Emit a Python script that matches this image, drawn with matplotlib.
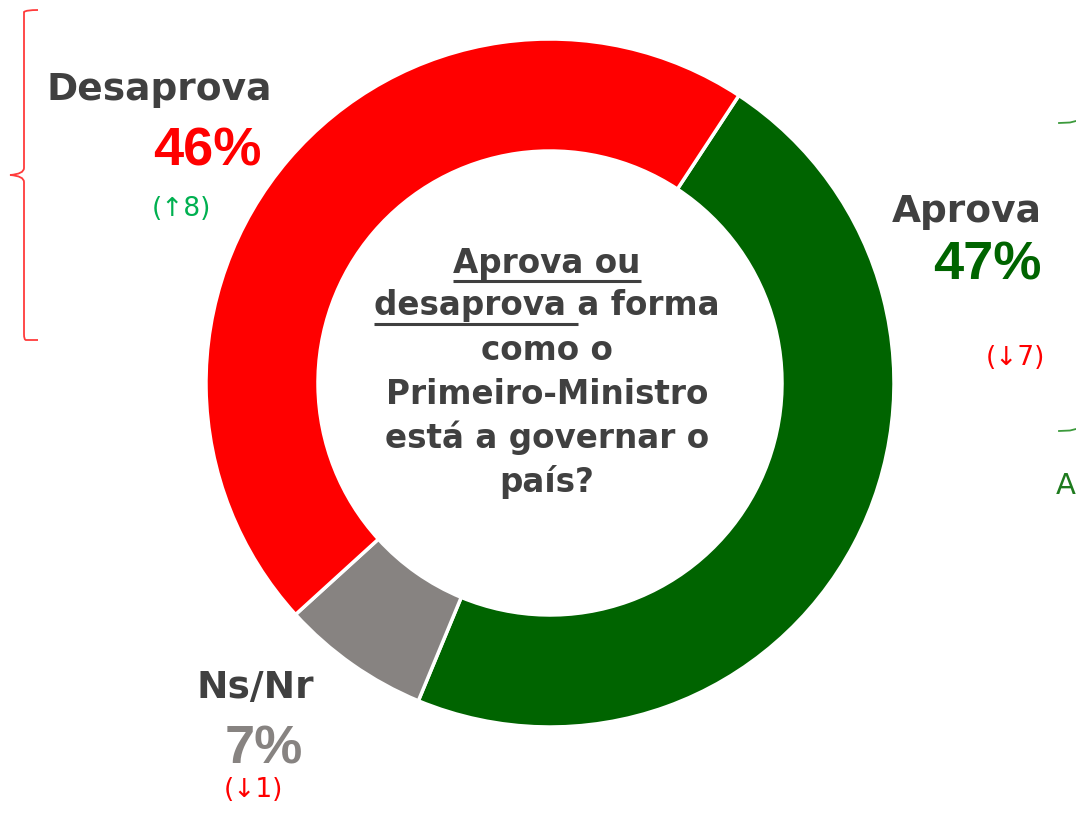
import numpy as np
import matplotlib.pyplot as plt
from matplotlib.path import Path
from matplotlib.patches import PathPatch

# -------------------------------
# Data
# -------------------------------
labels = ["Aprova", "Ns/Nr", "Desaprova"]
values = [47, 7, 46]
changes = ["(\u21937)", "(\u21931)", "(\u21918)"]
colors = ["#006400", "#878381", "#FF0000"]
question = ["Aprova ou", "desaprova a forma", "como o",
            "Primeiro-Ministro", "está a governar o", "país?"]

W, H = 1076, 815
DARK = "#404040"
PCT_FONT = ["Liberation Sans", "DejaVu Sans"]


def py(y):
    # pixel row (from top) -> data y
    return H - y


fig = plt.figure(figsize=(W / 100, H / 100), dpi=100)
ax = fig.add_axes([0, 0, 1, 1])

# -------------------------------
# Donut
# -------------------------------
cx, cy, r_out, r_in = 550, py(383), 344, 232
ax.pie(values, colors=colors, startangle=56.7, counterclock=False,
       center=(cx, cy), radius=r_out, frame=True,
       wedgeprops=dict(width=r_out - r_in, edgecolor="white", linewidth=2.5))
ax.set_xlim(0, W)
ax.set_ylim(0, H)
ax.set_aspect("equal")
ax.axis("off")

# -------------------------------
# Labels
# -------------------------------
ax.text(272, py(90), labels[2], ha="right", va="center", fontsize=27,
        fontweight="bold", color=DARK)
ax.text(261, py(151), f"{values[2]}%", ha="right", va="center", fontsize=39,
        fontweight="bold", color=colors[2], family=PCT_FONT)
ax.text(181, py(209), changes[2], ha="center", va="center", fontsize=19,
        color="#00B050")

ax.text(1042, py(212), labels[0], ha="right", va="center", fontsize=27,
        fontweight="bold", color=DARK)
ax.text(1042, py(265), f"{values[0]}%", ha="right", va="center", fontsize=39,
        fontweight="bold", color=colors[0], family=PCT_FONT)
ax.text(1045, py(358), changes[0], ha="right", va="center", fontsize=19,
        color="#FF0000")

ax.text(255, py(688), labels[1], ha="center", va="center", fontsize=27,
        fontweight="bold", color=DARK)
ax.text(264, py(749), f"{values[1]}%", ha="center", va="center", fontsize=39,
        fontweight="bold", color=colors[1], family=PCT_FONT)
ax.text(253, py(790), changes[1], ha="center", va="center", fontsize=19,
        color="#FF0000")

# partly hidden label at right edge
ax.text(1056, py(486), "A", ha="left", va="center", fontsize=21,
        color="#1E7B1E")

# -------------------------------
# Centre question
# -------------------------------
qx = 547
line_y = [263, 306, 350, 394, 438, 482]
fig.canvas.draw()
renderer = fig.canvas.get_renderer()
inv = ax.transData.inverted()
for i, (s, yy) in enumerate(zip(question, line_y)):
    t = ax.text(qx, py(yy), s, ha="center", va="center", fontsize=23.5,
                fontweight="bold", color=DARK)
    if i < 2:
        under = "Aprova ou" if i == 0 else "desaprova "
        bb = t.get_window_extent(renderer)
        tmp = ax.text(0, 0, under, fontsize=23.5, fontweight="bold")
        w = tmp.get_window_extent(renderer).width
        tmp.remove()
        x0 = inv.transform((bb.x0, 0))[0]
        x1 = inv.transform((bb.x0 + w, 0))[0]
        ax.plot([x0, x1], [py(yy + 18)] * 2, color=DARK, lw=2.2,
                solid_capstyle="butt")

# -------------------------------
# Brackets
# -------------------------------
red_brace = Path(
    [(38, py(10)), (26, py(10)), (24, py(12)), (24, py(20)),
     (24, py(168)), (24, py(174)), (10, py(175)),
     (24, py(176)), (24, py(182)),
     (24, py(334)), (24, py(340)), (26, py(340)), (38, py(340))],
    [Path.MOVETO, Path.CURVE3, Path.CURVE3, Path.LINETO,
     Path.LINETO, Path.CURVE3, Path.CURVE3,
     Path.CURVE3, Path.CURVE3,
     Path.LINETO, Path.CURVE3, Path.CURVE3, Path.LINETO])
ax.add_patch(PathPatch(red_brace, fill=False, edgecolor="#FF3B3B", lw=1.3))

for yy in (123, 431):
    ax.plot([1059, 1070, 1076], [py(yy), py(yy - 0.5), py(yy - 2)],
            color="#3C9A3C", lw=1.3)

fig.savefig("out.png", dpi=100)
